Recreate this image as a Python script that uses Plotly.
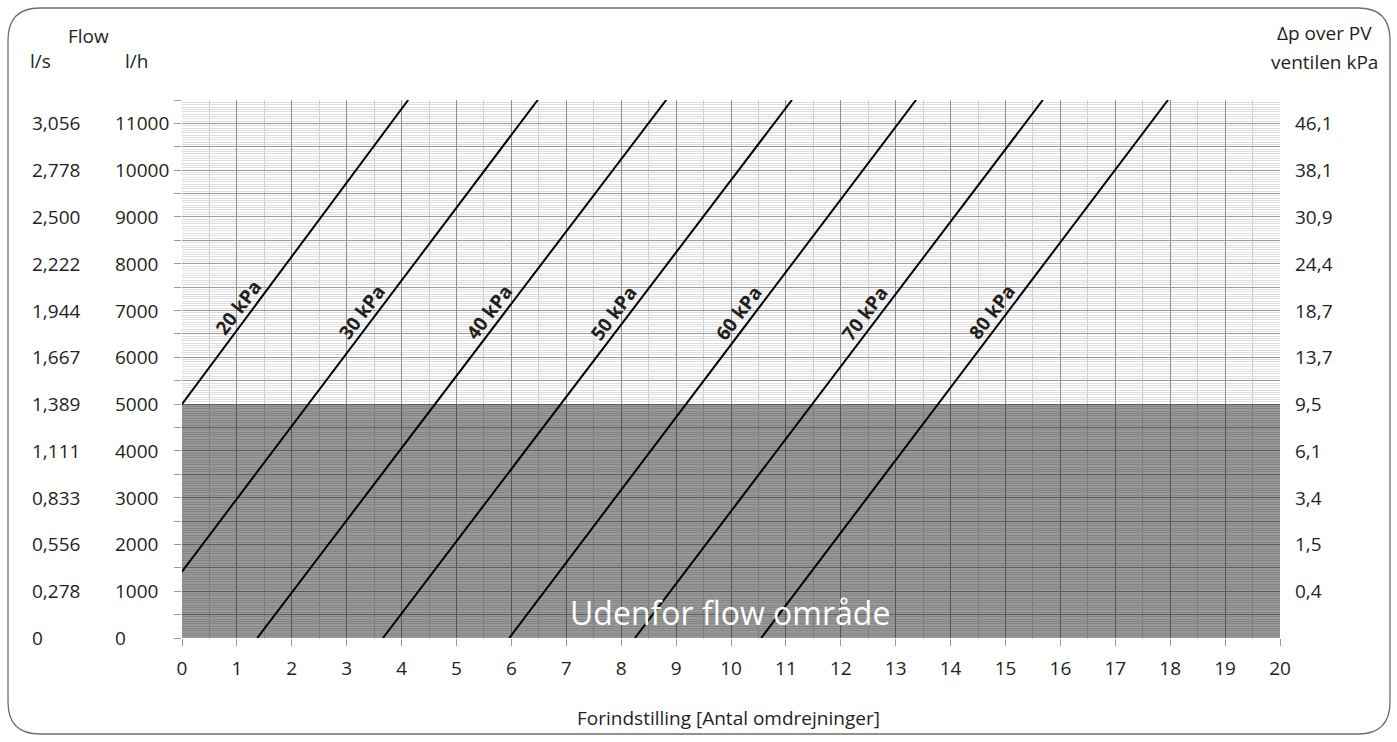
import plotly.graph_objects as go

# ---------------- data ----------------
pressures = ["20 kPa", "30 kPa", "40 kPa", "50 kPa", "60 kPa", "70 kPa", "80 kPa"]
x_start = [0.0, 0.0, 1.37, 3.66, 5.96, 8.25, 10.55]
q_start = [5000, 1420, 0, 0, 0, 0, 0]
x_end = [4.12, 6.48, 8.82, 11.11, 13.37, 15.68, 17.96]
q_end = [11500, 11500, 11500, 11500, 11500, 11500, 11500]
label_q = [7080, 6970, 6970, 6940, 6940, 6940, 6970]

flow_lh = [11000, 10000, 9000, 8000, 7000, 6000, 5000, 4000, 3000, 2000, 1000, 0]
lh_text = ["11000", "10000", "9000", "8000", "7000", "6000", "5000", "4000", "3000", "2000", "1000", "0"]
ls_text = ["3,056", "2,778", "2,500", "2,222", "1,944", "1,667", "1,389", "1,111", "0,833", "0,556", "0,278", "0"]
dp_flow = [11000, 10000, 9000, 8000, 7000, 6000, 5000, 4000, 3000, 2000, 1000]
dp_text = ["46,1", "38,1", "30,9", "24,4", "18,7", "13,7", "9,5", "6,1", "3,4", "1,5", "0,4"]
x_ticks = list(range(0, 21))
out_of_range_limit = 5000

# ---------------- layout geometry ----------------
W, H = 1397, 742
L, R, T, B = 182, 1280, 100, 638
FONT = "Open Sans"
TXT = "#231f20"


def px(xp):
    return (xp - L) / (R - L)


def py(yp):
    return (B - yp) / (B - T)


fig = go.Figure()

for name, xs, qs, xe, qe in zip(pressures, x_start, q_start, x_end, q_end):
    fig.add_trace(go.Scatter(x=[xs, xe], y=[qs, qe], mode="lines",
                             line=dict(color="black", width=2),
                             name=name, showlegend=False, hoverinfo="skip"))

annotations = []
# curve labels
for name, xs, qs, xe, qe, lq in zip(pressures, x_start, q_start, x_end, q_end, label_q):
    lx = xs + (lq - qs) / (qe - qs) * (xe - xs)
    annotations.append(dict(x=lx, y=lq, xref="x", yref="y", text="<b>%s</b>" % name,
                            showarrow=False, textangle=-52.8, xshift=-16,
                            xanchor="center", yanchor="middle",
                            font=dict(family=FONT, size=19, color=TXT)))

# out of range text
annotations.append(dict(x=px(730), y=py(612), xref="paper", yref="paper",
                        text="Udenfor flow område", showarrow=False,
                        xanchor="center", yanchor="middle",
                        font=dict(family=FONT, size=32, color="white")))

# left axis labels
for q, t1, t2 in zip(flow_lh, lh_text, ls_text):
    annotations.append(dict(x=px(113), y=q, xref="paper", yref="y", text=t1,
                            showarrow=False, xanchor="left", yanchor="middle",
                            font=dict(family=FONT, size=19, color=TXT)))
    annotations.append(dict(x=px(30), y=q, xref="paper", yref="y", text=t2,
                            showarrow=False, xanchor="left", yanchor="middle",
                            font=dict(family=FONT, size=19, color=TXT)))
# right axis labels
for q, t in zip(dp_flow, dp_text):
    annotations.append(dict(x=px(1293), y=q, xref="paper", yref="y", text=t,
                            showarrow=False, xanchor="left", yanchor="middle",
                            font=dict(family=FONT, size=19, color=TXT)))

# headers
hdr = [("Flow", 88, 36, "center"), ("l/s", 28, 61, "left"), ("l/h", 123, 61, "left"),
       ("Δp over PV", 1324, 33, "center"), ("ventilen kPa", 1324, 62, "center")]
for t, xx, yy, anc in hdr:
    annotations.append(dict(x=px(xx), y=py(yy), xref="paper", yref="paper", text=t,
                            showarrow=False, xanchor=anc, yanchor="middle",
                            font=dict(family=FONT, size=19, color=TXT)))

# x title
annotations.append(dict(x=px(728), y=py(718), xref="paper", yref="paper",
                        text="Forindstilling [Antal omdrejninger]", showarrow=False,
                        xanchor="center", yanchor="middle",
                        font=dict(family=FONT, size=19, color=TXT)))

# rounded border
r = 32
x0b, x1b, y0b, y1b = 8, 1390, 8, 734


def P(a, b):
    return "%f,%f" % (px(a), py(b))


path = ("M " + P(x0b + r, y0b) + " L " + P(x1b - r, y0b) +
        " Q " + P(x1b, y0b) + " " + P(x1b, y0b + r) +
        " L " + P(x1b, y1b - r) +
        " Q " + P(x1b, y1b) + " " + P(x1b - r, y1b) +
        " L " + P(x0b + r, y1b) +
        " Q " + P(x0b, y1b) + " " + P(x0b, y1b - r) +
        " L " + P(x0b, y0b + r) +
        " Q " + P(x0b, y0b) + " " + P(x0b + r, y0b) + " Z")

shapes = [
    dict(type="rect", xref="x", yref="y", x0=0, x1=20, y0=0, y1=out_of_range_limit,
         fillcolor="rgba(0,0,0,0.40)", line=dict(width=0), layer="between"),
    dict(type="path", xref="paper", yref="paper", path=path,
         line=dict(color="#6d6e71", width=1.3), fillcolor="rgba(0,0,0,0)"),
]

fig.update_layout(
    width=W, height=H,
    margin=dict(l=L, r=W - R, t=T, b=H - B),
    paper_bgcolor="white", plot_bgcolor="white",
    showlegend=False,
    annotations=annotations, shapes=shapes,
    xaxis=dict(range=[0, 20], tickmode="array", tickvals=x_ticks,
               ticktext=[str(v) for v in x_ticks],
               ticks="outside", ticklen=7, tickcolor="#9a9a9a",
               ticklabelstandoff=6,
               showgrid=True, gridcolor="#8e8e8e", gridwidth=1,
               minor=dict(tickmode="linear", tick0=0, dtick=0.5, showgrid=True,
                          gridcolor="#c6c6c6", ticks=""),
               zeroline=False, showline=False,
               tickfont=dict(family=FONT, size=19, color=TXT)),
    yaxis=dict(range=[0, 11500], tickmode="linear", tick0=0, dtick=500,
               showticklabels=False, ticks="outside", ticklen=7, tickcolor="#9a9a9a",
               showgrid=True, gridcolor="#9a9a9a", gridwidth=1,
               minor=dict(tickmode="linear", tick0=0, dtick=50, showgrid=True,
                          gridcolor="#dedede", ticks=""),
               zeroline=False, showline=False),
)

fig.write_html("out.html")
